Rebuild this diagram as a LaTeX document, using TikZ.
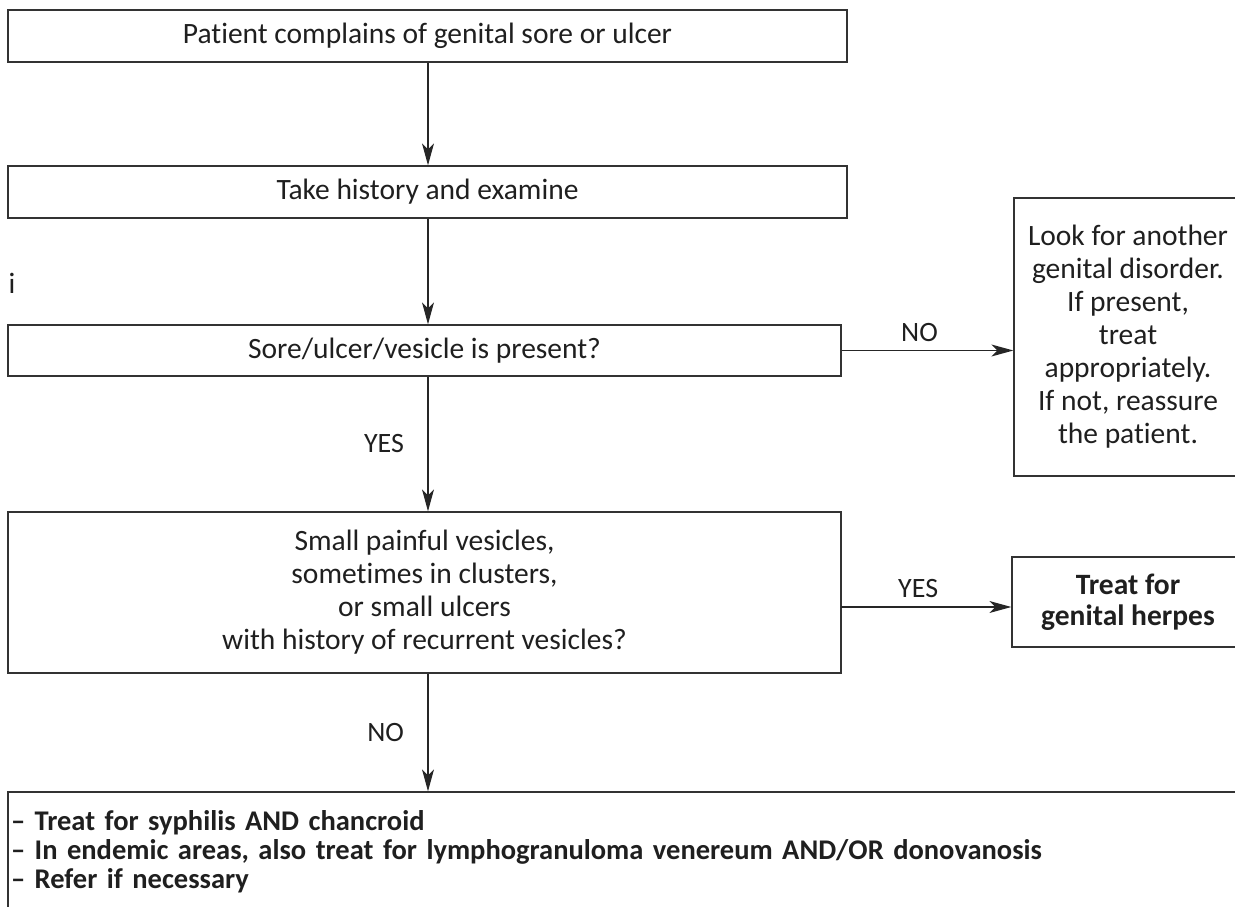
\documentclass[tikz,border=0pt]{standalone}
\usepackage{fontspec}
\setmainfont{Carlito}[Ligatures={NoCommon,NoContextual,NoRare},RawFeature={-liga;-clig;-calt;-dlig}]
\usetikzlibrary{arrows.meta}
\begin{document}
\begin{tikzpicture}[x=1pt,y=-1pt,
  every node/.style={font=\fontsize{29.5}{33}\selectfont, text=black!88},
  box/.style={draw=black!80, line width=1.3pt, rectangle, inner sep=2pt, align=center},
  lab/.style={font=\fontsize{28}{30}\selectfont},
  arr/.style={draw=black!85, line width=1.3pt, -{Stealth[length=22pt,width=12pt,inset=6pt]}}]
\useasboundingbox (0,0) rectangle (1235,907);
\clip (0,0) rectangle (1235,907);
\node[box, minimum width=839, minimum height=52] (b1) at (427.5,36) {Patient complains of genital sore or ulcer};
\node[box, minimum width=839, minimum height=52] (b2) at (427.5,192) {Take history and examine};
\node[box, minimum width=833, minimum height=51] (b3) at (424.5,350.5) {Sore/ulcer/vesicle is present?};
\node[box, minimum width=833, minimum height=161] (b4) at (424.5,592.5) {Small painful vesicles,\\sometimes in clusters,\\or small ulcers\\with history of recurrent vesicles?};
\node[box, minimum width=228, minimum height=278] (alt) at (1128,337) {Look for another\\genital disorder.\\If present,\\treat\\appropriately.\\If not, reassure\\the patient.};
\node[box, minimum width=232, minimum height=90, font=\fontsize{29.5}{31}\selectfont\bfseries] (herp) at (1128,602) {Treat for\\genital herpes};
\node[box, minimum width=1242, minimum height=120, text width=1236, align=left, font=\fontsize{28.5}{29}\selectfont\bfseries] (treat) at (629,852) {– Treat for syphilis AND chancroid\\– In endemic areas, also treat for lymphogranuloma venereum AND/OR donovanosis\\– Refer if necessary};
\node (stray) at (12,283) {i};
\draw[arr] (b1.south -| 428,0) -- (b2.north -| 428,0);
\draw[arr] (b2.south -| 428,0) -- (b3.north -| 428,0);
\draw[arr] (b3.south -| 428,0) -- node[lab, left=20pt] (yes1) {YES} (b4.north -| 428,0);
\draw[arr] (b4.south -| 428,0) -- node[lab, left=20pt] (no2) {NO} (treat.north -| 428,0);
\draw[arr] (b3.east) -- node[lab, above=5pt, xshift=-8pt] (no1) {NO} (b3.east -| alt.west);
\coordinate (y2) at (841,607);
\draw[arr] (y2) -- node[lab, above=5pt, xshift=-8pt] (yes2) {YES} (y2 -| herp.west);
\end{tikzpicture}
\end{document}
